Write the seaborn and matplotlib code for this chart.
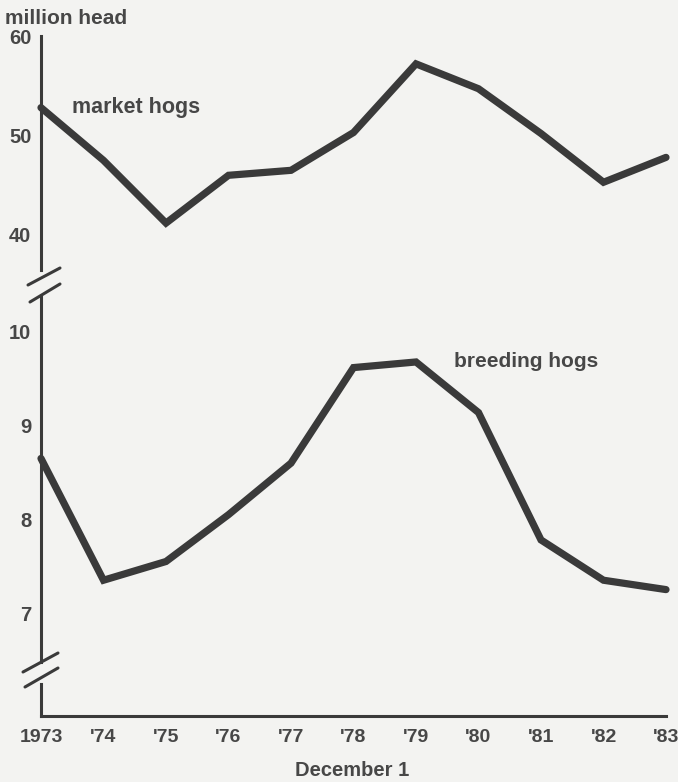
import numpy as np
import pandas as pd
import matplotlib.pyplot as plt
import seaborn as sns
from matplotlib.lines import Line2D

# hog inventories, December 1 (million head)
years = list(range(1973, 1984))
year_labels = ['1973', "'74", "'75", "'76", "'77", "'78", "'79", "'80", "'81", "'82", "'83"]
market_hogs = [52.8, 47.5, 41.2, 46.0, 46.5, 50.3, 57.2, 54.7, 50.2, 45.3, 47.8]
breeding_hogs = [8.65, 7.35, 7.55, 8.05, 8.6, 9.62, 9.68, 9.14, 7.78, 7.35, 7.25]
market_ticks = [40, 50, 60]
breeding_ticks = [7, 8, 9, 10]

df = pd.DataFrame({'year': years, 'market': market_hogs, 'breeding': breeding_hogs})

sns.set_style('white')
plt.rcParams['font.family'] = ['Liberation Sans', 'DejaVu Sans']
plt.rcParams['font.weight'] = 'bold'

ink = '#3a3a3a'
txt = '#474747'
bg = '#f3f3f1'

W, H = 678, 782
fig = plt.figure(figsize=(W / 100, H / 100), dpi=100, facecolor=bg)


def fx(px):
    return px / W


def fy(py):
    return 1 - py / H


def make_ax(top, bottom):
    ax = fig.add_axes([fx(41), fy(bottom), fx(666) - fx(41), fy(top) - fy(bottom)])
    ax.set_facecolor('none')
    for s in ['top', 'right', 'bottom']:
        ax.spines[s].set_visible(False)
    ax.spines['left'].set_color(ink)
    ax.spines['left'].set_linewidth(2.2)
    ax.set_xlim(1973, 1983)
    ax.set_xticks([])
    return ax


# upper panel: market hogs (60 at y=36px, ~9.95 px per unit)
ax_top = make_ax(36, 270)
ax_top.set_ylim(60 - (270 - 36) / 9.95, 60)
sns.lineplot(data=df, x='year', y='market', ax=ax_top, color=ink, linewidth=5.2,
             solid_joinstyle='miter', clip_on=False)
ax_top.set_yticks(market_ticks)
ax_top.set_yticklabels([str(v) for v in market_ticks])
ax_top.text(1973.5, 52.8, 'market hogs', fontsize=15.5, color=txt, va='center', ha='left')

# middle panel: breeding hogs (10 at y=332px, ~93.7 px per unit)
ax_mid = make_ax(296, 662)
ax_mid.set_ylim(7 - (662 - 613) / 93.7, 10 + (332 - 296) / 93.7)
sns.lineplot(data=df, x='year', y='breeding', ax=ax_mid, color=ink, linewidth=5.2,
             solid_joinstyle='miter', clip_on=False)
ax_mid.set_yticks(breeding_ticks)
ax_mid.set_yticklabels([str(v) for v in breeding_ticks])
ax_mid.text(1979.6, 9.68, 'breeding hogs', fontsize=15, color=txt, va='center', ha='left')

# bottom strip: x axis only
ax_bot = make_ax(684, 716)
ax_bot.set_ylim(0, 1)
ax_bot.set_yticks([])
ax_bot.spines['bottom'].set_visible(True)
ax_bot.spines['bottom'].set_color(ink)
ax_bot.spines['bottom'].set_linewidth(2.2)
ax_bot.set_xticks(years)
ax_bot.set_xticklabels(year_labels)
ax_bot.tick_params(axis='x', direction='in', length=12, width=2.2, color=ink,
                   labelsize=14, labelcolor=txt, pad=9)

for ax in [ax_top, ax_mid]:
    ax.set_xlabel('')
    ax.set_ylabel('')
    ax.tick_params(axis='y', direction='in', length=12, width=2.2, color=ink,
                   labelsize=14.5, labelcolor=txt, pad=7)
ax_bot.set_xlabel('')

# axis break marks
for (x0, y0, x1, y1) in [(28, 285, 60, 268), (30, 302, 60, 284),
                         (23, 672, 58, 653), (25, 687, 58, 668)]:
    fig.add_artist(Line2D([fx(x0), fx(x1)], [fy(y0), fy(y1)], color=ink, linewidth=2.2))

fig.text(fx(5), fy(18), 'million head', fontsize=15, color=txt, ha='left', va='center')
fig.text(fx(352), fy(770), 'December 1', fontsize=14.5, color=txt, ha='center', va='center')

fig.savefig('out.png', dpi=100, facecolor=bg)
